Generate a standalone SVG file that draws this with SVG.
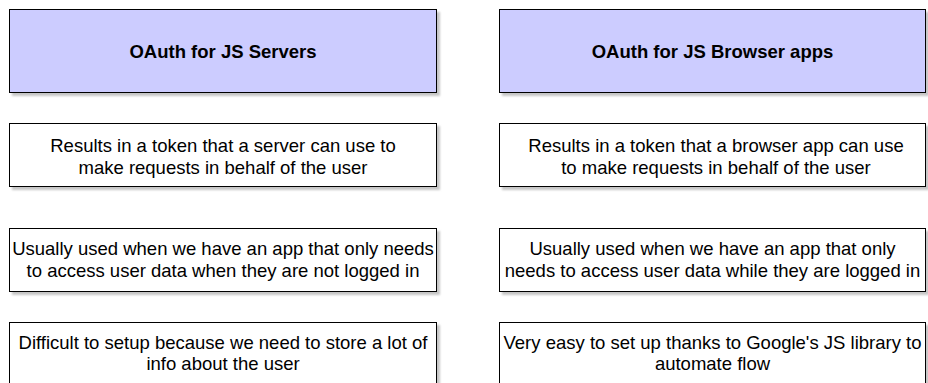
<svg xmlns="http://www.w3.org/2000/svg" width="928" height="383" viewBox="0 0 928 383">
  <defs>
    <filter id="shadow" x="-5%" y="-10%" width="115%" height="130%">
      <feDropShadow dx="3" dy="3" stdDeviation="1" flood-color="#808080" flood-opacity="0.45"/>
    </filter>
  </defs>
  <style>
    .box { fill: #ffffff; stroke: #000000; stroke-width: 1; filter: url(#shadow); }
    .head { fill: #ccccff; stroke: #000000; stroke-width: 1; filter: url(#shadow); }
    text { font-family: "Liberation Sans", Arial, Helvetica, sans-serif; font-size: 18.5px; fill: #000000; text-anchor: middle; }
    .title { font-weight: bold; }
  </style>
  <rect width="928" height="383" fill="#ffffff"/>

  <!-- left column: server-side OAuth -->
  <g id="servers-title">
    <rect class="head" x="9.5" y="9.5" width="427" height="83"/>
    <text class="title" x="223" y="57.5">OAuth for JS Servers</text>
  </g>
  <g id="servers-token">
    <rect class="box" x="9.5" y="123.5" width="427" height="63"/>
    <text x="223" y="152">Results in a token that a server can use to</text>
    <text x="223" y="173.5">make requests in behalf of the user</text>
  </g>
  <g id="servers-usage">
    <rect class="box" x="9.5" y="228.5" width="427" height="63"/>
    <text x="223" y="255.2">Usually used when we have an app that only needs</text>
    <text x="223" y="276.7">to access user data when they are not logged in</text>
  </g>
  <g id="servers-setup">
    <rect class="box" x="9.5" y="322.5" width="427" height="64"/>
    <text x="223" y="348.6">Difficult to setup because we need to store a lot of</text>
    <text x="223" y="370.1">info about the user</text>
  </g>

  <!-- right column: browser-side OAuth -->
  <g id="browser-title">
    <rect class="head" x="499.5" y="9.5" width="426" height="83"/>
    <text class="title" x="712.5" y="57.5">OAuth for JS Browser apps</text>
  </g>
  <g id="browser-token">
    <rect class="box" x="499.5" y="123.5" width="426" height="63"/>
    <text x="716" y="152">Results in a token that a browser app can use</text>
    <text x="716" y="173.5">to make requests in behalf of the user</text>
  </g>
  <g id="browser-usage">
    <rect class="box" x="499.5" y="228.5" width="426" height="63"/>
    <text x="712.5" y="255.2">Usually used when we have an app that only</text>
    <text x="712.5" y="276.7">needs to access user data while they are logged in</text>
  </g>
  <g id="browser-setup">
    <rect class="box" x="499.5" y="322.5" width="426" height="64"/>
    <text x="712.5" y="348.6">Very easy to set up thanks to Google's JS library to</text>
    <text x="712.5" y="370.1">automate flow</text>
  </g>

  <!-- no connectors between the boxes -->
  <g id="connectors"/>
</svg>
